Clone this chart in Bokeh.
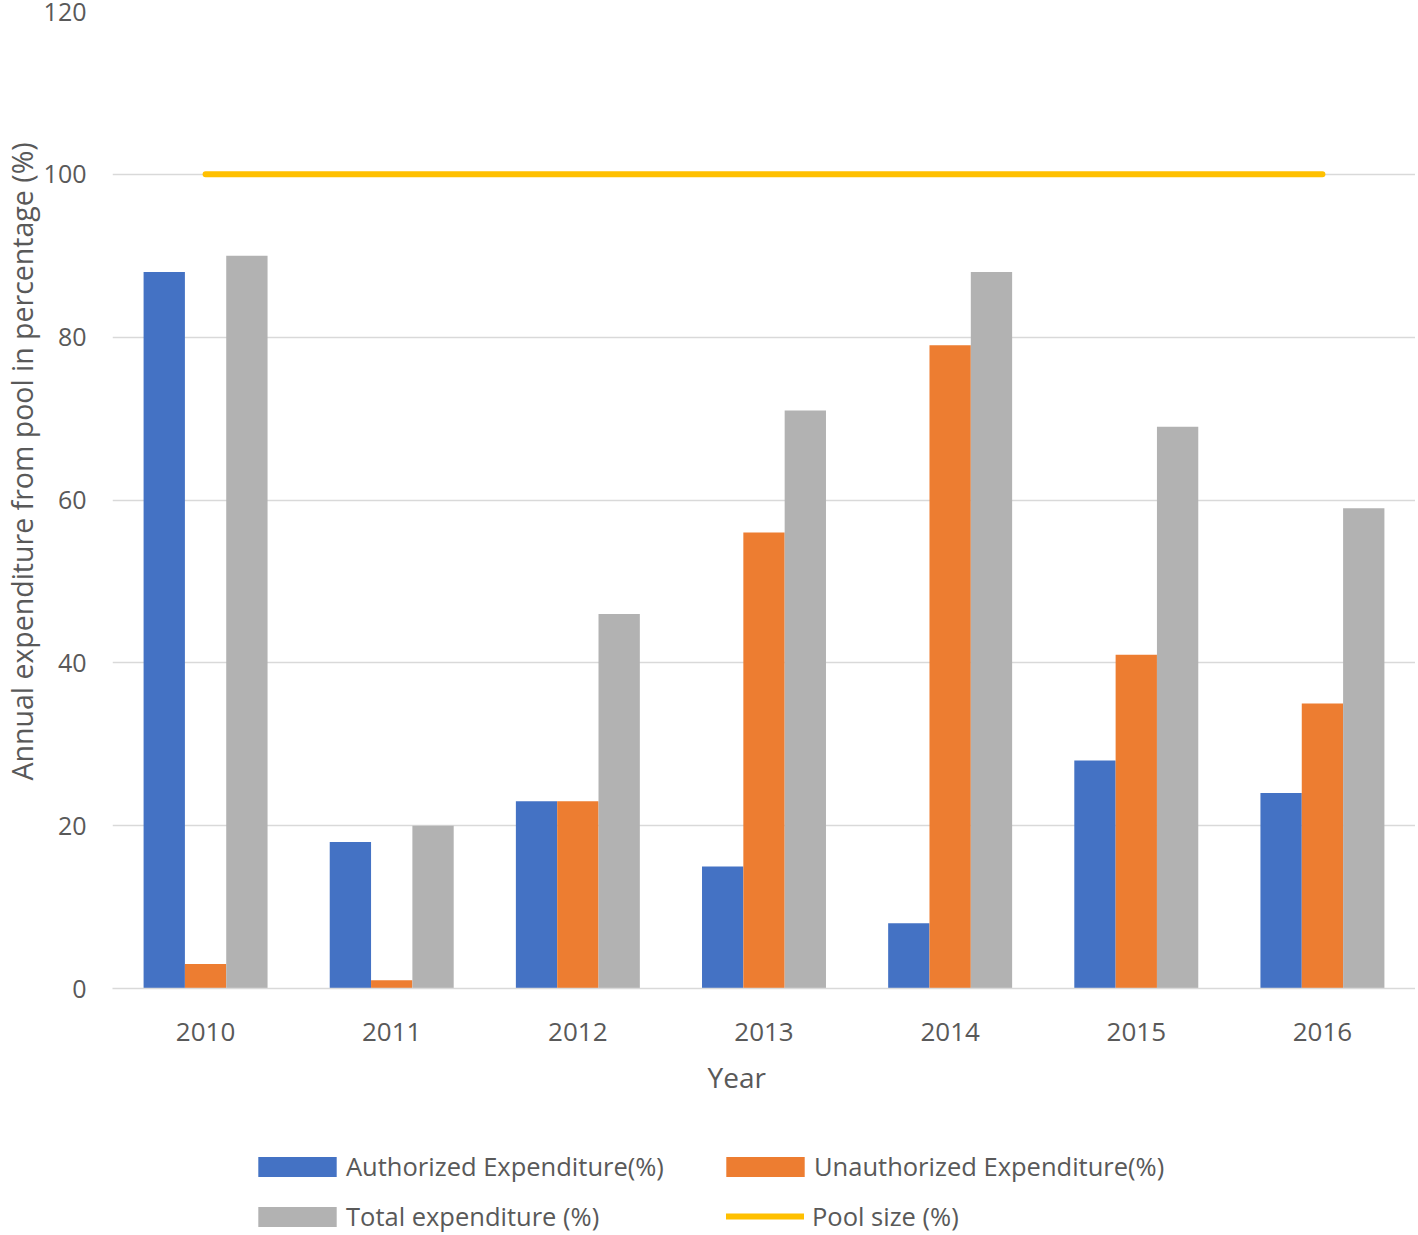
from bokeh.plotting import figure
from bokeh.models import ColumnDataSource, FactorRange, Legend, LegendItem, Title, FixedTicker
from bokeh.layouts import column
from bokeh.transform import dodge
from bokeh.embed import file_html
from bokeh.resources import INLINE

years = ["2010", "2011", "2012", "2013", "2014", "2015", "2016"]
authorized = [88, 18, 23, 15, 8, 28, 24]
unauthorized = [3, 1, 23, 56, 79, 41, 35]
total = [90, 20, 46, 71, 88, 69, 59]
pool = [100, 100, 100, 100, 100, 100, 100]
y_ticks = [0, 20, 40, 60, 80, 100, 120]

FONT = "Open Sans"
TXT = "#595959"
C_AUTH, C_UNAUTH, C_TOTAL, C_POOL = "#4472C4", "#ED7D31", "#B2B2B2", "#FFC000"

src = ColumnDataSource(dict(years=years, authorized=authorized, unauthorized=unauthorized,
                            total=total, pool=pool))

p = figure(x_range=FactorRange(*years), y_range=(0, 120), width=1415, height=1125,
           output_backend="svg", toolbar_location=None,
           min_border_left=105, min_border_right=0, min_border_top=11, min_border_bottom=137)
p.outline_line_color = None
p.background_fill_color = "white"
p.border_fill_color = "white"

bw = 0.222
p.vbar(x=dodge("years", -bw, range=p.x_range), top="authorized", width=bw, source=src,
       fill_color=C_AUTH, line_color=None)
p.vbar(x=dodge("years", 0, range=p.x_range), top="unauthorized", width=bw, source=src,
       fill_color=C_UNAUTH, line_color=None)
p.vbar(x=dodge("years", bw, range=p.x_range), top="total", width=bw, source=src,
       fill_color=C_TOTAL, line_color=None)
p.line(x="years", y="pool", source=src, line_color=C_POOL, line_width=6, line_cap="round")

# axes
p.yaxis.ticker = FixedTicker(ticks=y_ticks)
p.yaxis.axis_line_color = None
p.yaxis.major_tick_line_color = None
p.yaxis.minor_tick_line_color = None
p.yaxis.major_tick_out = 0
p.yaxis.major_label_standoff = 26
p.yaxis.major_label_text_font = FONT
p.yaxis.major_label_text_font_size = "25px"
p.yaxis.major_label_text_color = TXT

p.xaxis.axis_line_color = "#D9D9D9"
p.xaxis.axis_line_width = 1.5
p.xaxis.major_tick_line_color = None
p.xaxis.major_tick_out = 0
p.xaxis.major_label_standoff = 34
p.xaxis.major_label_text_font = FONT
p.xaxis.major_label_text_font_size = "26px"
p.xaxis.major_label_text_color = TXT

p.xgrid.grid_line_color = None
p.ygrid.grid_line_color = "#D9D9D9"
p.ygrid.grid_line_width = 1.5

ytitle = Title(text="Annual expenditure from pool in percentage (%)", align="left",
               offset=208, text_font=FONT, text_font_size="28.5px", text_font_style="normal",
               text_color=TXT, standoff=0)
p.add_layout(ytitle, "left")

xtitle = Title(text="Year", align="left", offset=595, text_font=FONT,
               text_font_size="28px", text_font_style="normal", text_color=TXT, standoff=24)
p.add_layout(xtitle, "below")

# legend strip below the chart
lg = figure(width=1415, height=108, output_backend="svg", toolbar_location=None,
            x_range=(0, 1), y_range=(0, 1), min_border=0,
            x_axis_location=None, y_axis_location=None)
lg.outline_line_color = None
lg.grid.visible = False
nan = float("nan")
empty = ColumnDataSource(dict(x=[nan], top=[nan]))
l1 = lg.vbar(x="x", top="top", width=0.1, source=empty, fill_color=C_AUTH, line_color=None)
l2 = lg.vbar(x="x", top="top", width=0.1, source=empty, fill_color=C_UNAUTH, line_color=None)
l3 = lg.vbar(x="x", top="top", width=0.1, source=empty, fill_color=C_TOTAL, line_color=None)
l4 = lg.line(x="x", y="top", source=empty, line_color=C_POOL, line_width=6, line_cap="round")

def add_item(label, rend, vx, vy, gw, gh, standoff):
    leg = Legend(items=[LegendItem(label=label, renderers=[rend])], location=(vx, vy),
                 padding=0, margin=0, border_line_color=None, background_fill_alpha=0,
                 glyph_width=gw, glyph_height=gh, label_standoff=standoff, label_height=30,
                 label_text_font=FONT, label_text_font_size="25.5px", label_text_color=TXT)
    lg.add_layout(leg, "center")

add_item("Authorized Expenditure(%)", l1, 136, 50, 98, 25, 0)
add_item("Unauthorized Expenditure(%)", l2, 604, 50, 98, 25, 0)
add_item("Total expenditure (%)", l3, 136, 0, 98, 25, 0)
add_item("Pool size (%)", l4, 614, 0, 78, 20, 8)

open("out.html", "w").write(file_html(column(p, lg, spacing=0), INLINE))
